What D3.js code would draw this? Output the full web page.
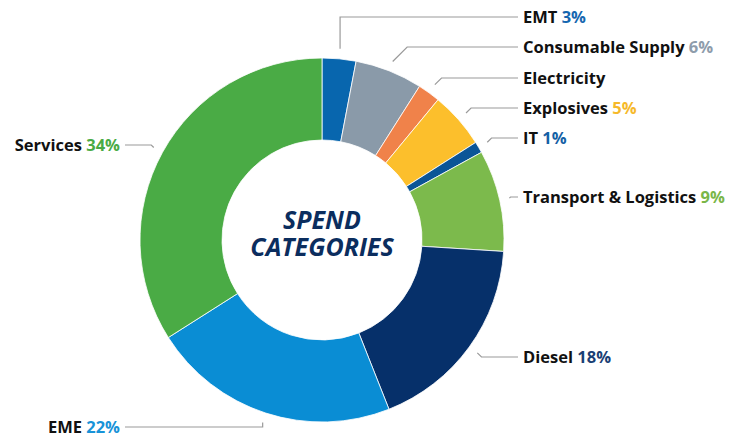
<html>
  <head>
    <script src="https://cdn.jsdelivr.net/npm/d3@7"></script>
    <style>
      body { margin: 0; background: #fff; }
      text { font-family: "Open Sans", sans-serif; }
    </style>
  </head>
  <body>
    <div id="chart"></div>
    <script>
      // data
      const categories = ["EMT", "Consumable Supply", "Electricity", "Explosives", "IT",
        "Transport & Logistics", "Diesel", "EME", "Services"];
      const shares = [3, 6, 2, 5, 1, 9, 18, 22, 34];
      const showPct = [true, true, false, true, true, true, true, true, true];
      const colors = ["#0866ae", "#8a9aa9", "#f0824a", "#fcbf2c", "#0b5597",
        "#7cba4c", "#06306a", "#0a8dd4", "#4aab45"];
      const pctColors = ["#1667b0", "#8e9cab", null, "#f6b92a", "#1460a5",
        "#7ab648", "#1a3f75", "#1893d8", "#4aab45"];

      // label layout (right side stacked, left side free)
      const labelY = [17, 47, 78, 108, 138, 197, 357, 427, 145];
      const side = ["r", "r", "r", "r", "r", "r", "r", "l", "l"];
      const vertical = [true, false, false, false, false, false, false, true, false];

      const width = 739, height = 438;
      const cx = 322, cy = 240, outerR = 182, innerR = 100;

      const svg = d3.select("#chart").append("svg")
        .attr("width", width).attr("height", height);

      const g = svg.append("g").attr("transform", "translate(" + cx + "," + cy + ")");

      const pie = d3.pie().sort(null).value(d => d);
      const arcs = pie(shares);
      const arc = d3.arc().innerRadius(innerR).outerRadius(outerR);

      g.selectAll("path.slice")
        .data(arcs)
        .enter()
        .append("path")
        .attr("class", "slice")
        .attr("d", arc)
        .attr("fill", (d, i) => colors[i])
        .attr("stroke", "#fff")
        .attr("stroke-width", 0.8);

      // leader lines + labels
      const lineR = outerR + 10;
      arcs.forEach(function (d, i) {
        const a = (d.startAngle + d.endAngle) / 2;
        const sx = cx + lineR * Math.sin(a);
        const sy = cy - lineR * Math.cos(a);
        const ly = labelY[i];
        let pts;
        if (side[i] === "r") {
          const ex = vertical[i] ? sx : sx + Math.abs(sy - ly);
          pts = [[sx, sy], [ex, ly], [518, ly]];
        } else {
          const ex = vertical[i] ? sx : sx - Math.abs(sy - ly);
          pts = [[sx, sy], [ex, ly], [125, ly]];
        }
        svg.append("path")
          .attr("d", d3.line()(pts))
          .attr("fill", "none")
          .attr("stroke", "#9a9a9a")
          .attr("stroke-width", 1.2);

        const t = svg.append("text")
          .attr("x", side[i] === "r" ? 523 : 120)
          .attr("y", ly)
          .attr("dy", "0.35em")
          .attr("text-anchor", side[i] === "r" ? "start" : "end")
          .style("font-size", "16.5px")
          .style("font-weight", 700);
        t.append("tspan").attr("fill", "#111").text(categories[i]);
        if (showPct[i]) {
          t.append("tspan").attr("fill", pctColors[i]).text(" " + shares[i] + "%");
        }
      });

      // center title, one text with two lines
      const title = ["SPEND", "CATEGORIES"];
      g.append("text")
        .attr("text-anchor", "middle")
        .attr("fill", "#0b2d5e")
        .style("font-size", "25px")
        .style("font-weight", 700)
        .style("font-style", "italic")
        .selectAll("tspan")
        .data(title)
        .enter()
        .append("tspan")
        .attr("x", 0)
        .attr("y", (d, i) => -11 + i * 27)
        .text(d => d);
    </script>
  </body>
</html>
